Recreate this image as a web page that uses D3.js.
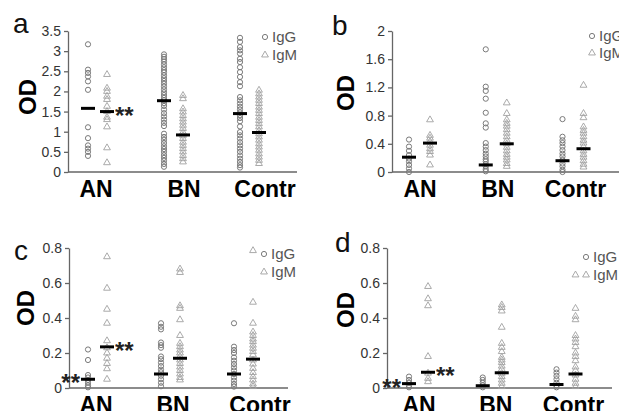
<!DOCTYPE html>
<html>
<head>
<meta charset="utf-8">
<script src="https://cdn.jsdelivr.net/npm/d3@7"></script>
<style>
  body { margin: 0; background: #fff; }
  svg { display: block; font-family: Arial, "Liberation Sans", sans-serif; }
  .tick text { fill: #333; font-size: 14px; }
  .cat .tick text { fill: #000; font-size: 23px; font-weight: bold; }
</style>
</head>
<body>
<div id="chart"></div>
<script>
const categories = ['AN', 'BN', 'Contr'];

// panel a
const aTicks = [0, 0.5, 1, 1.5, 2, 2.5, 3, 3.5];
const aIgG = [
    [3.17, 2.54, 2.46, 2.37, 2.25, 2.04, 1.11, 0.84, 0.66, 0.58, 0.50, 0.40],
    [2.92, 2.86, 2.80, 2.74, 2.67, 2.60, 2.53, 2.47, 2.40, 2.33, 2.26, 2.19, 2.12, 2.05, 1.98, 1.91, 1.84, 1.78, 1.71,
     1.64, 1.55, 1.46, 1.38, 1.30, 1.22, 1.14, 0.95, 0.87, 0.80, 0.72, 0.64, 0.57, 0.50, 0.42, 0.35, 0.28, 0.20, 0.13],
    [3.33, 3.23, 3.10, 3.02, 2.94, 2.81, 2.73, 2.60, 2.48, 2.36, 2.23, 2.13, 1.86, 1.78, 1.70, 1.62, 1.55, 1.48, 1.41,
     1.34, 1.26, 1.13, 0.99, 0.91, 0.83, 0.74, 0.66, 0.58, 0.50, 0.41, 0.33, 0.25, 0.17, 0.11]
];
const aIgM = [
    [2.42, 2.08, 2.00, 1.88, 1.80, 1.63, 1.50, 1.36, 1.30, 1.12, 0.60, 0.23],
    [1.90, 1.82, 1.57, 1.49, 1.40, 1.32, 1.24, 1.16, 1.08, 0.99, 0.91, 0.83, 0.74, 0.66, 0.58, 0.50, 0.41, 0.33, 0.25],
    [2.03, 1.94, 1.86, 1.78, 1.70, 1.61, 1.53, 1.45, 1.36, 1.28, 1.20, 1.12, 1.03, 0.95, 0.87, 0.79, 0.70, 0.62, 0.54,
     0.45, 0.37, 0.29, 0.21]
];
const aMedIgG = [1.58, 1.77, 1.45];
const aMedIgM = [1.50, 0.92, 0.98];

// panel b
const bTicks = [0, 0.4, 0.8, 1.2, 1.6, 2];
const bIgG = [
    [0.46, 0.36, 0.30, 0.24, 0.19, 0.15, 0.10, 0.05, 0.00],
    [1.74, 1.21, 1.15, 1.04, 0.84, 0.69, 0.63, 0.41, 0.36, 0.31, 0.26, 0.22, 0.18, 0.15, 0.11, 0.08, 0.04, 0.01],
    [0.75, 0.50, 0.45, 0.41, 0.36, 0.31, 0.26, 0.22, 0.17, 0.12, 0.08, 0.03, 0.00]
];
const bIgM = [
    [0.74, 0.52, 0.48, 0.43, 0.38, 0.33, 0.29, 0.24, 0.10],
    [0.98, 0.83, 0.74, 0.69, 0.65, 0.60, 0.55, 0.50, 0.45, 0.40, 0.35, 0.30, 0.25, 0.21, 0.17, 0.12, 0.08],
    [1.23, 0.83, 0.77, 0.64, 0.59, 0.55, 0.50, 0.45, 0.41, 0.36, 0.30, 0.25, 0.21, 0.16, 0.11, 0.07]
];
const bMedIgG = [0.21, 0.10, 0.16];
const bMedIgM = [0.41, 0.40, 0.33];

// panel c
const cTicks = [0, 0.2, 0.4, 0.6, 0.8];
const cIgG = [
    [0.22, 0.16, 0.074, 0.06, 0.046, 0.03, 0.015, 0.004],
    [0.37, 0.35, 0.335, 0.26, 0.245, 0.23, 0.18, 0.165, 0.145, 0.125, 0.105, 0.09, 0.07, 0.05, 0.03, 0.01],
    [0.37, 0.236, 0.217, 0.20, 0.175, 0.156, 0.137, 0.118, 0.10, 0.08, 0.06, 0.042, 0.023, 0.008]
];
const cIgM = [
    [0.75, 0.57, 0.45, 0.37, 0.27, 0.23, 0.20, 0.17, 0.14, 0.11, 0.05],
    [0.68, 0.66, 0.47, 0.455, 0.39, 0.30, 0.255, 0.236, 0.217, 0.20, 0.18, 0.16, 0.14, 0.12, 0.10, 0.08, 0.06, 0.046],
    [0.785, 0.49, 0.37, 0.32, 0.30, 0.28, 0.265, 0.245, 0.227, 0.208, 0.19, 0.16, 0.137, 0.112, 0.088, 0.065, 0.046,
     0.023, 0.008]
];
const cMedIgG = [0.05, 0.08, 0.08];
const cMedIgM = [0.235, 0.17, 0.165];

// panel d
const dTicks = [0, 0.2, 0.4, 0.6, 0.8];
const dIgG = [
    [0.065, 0.046, 0.03, 0.015, 0.004],
    [0.06, 0.046, 0.03, 0.015, 0.004],
    [0.107, 0.088, 0.069, 0.05, 0.03, 0.015, 0.004]
];
const dIgM = [
    [0.58, 0.51, 0.47, 0.18, 0.085, 0.055, 0.036],
    [0.475, 0.46, 0.44, 0.347, 0.255, 0.232, 0.208, 0.175, 0.16, 0.145, 0.125, 0.107, 0.084, 0.065, 0.046, 0.027, 0.008],
    [0.646, 0.455, 0.41, 0.39, 0.30, 0.28, 0.26, 0.236, 0.20, 0.18, 0.156, 0.12, 0.10, 0.074, 0.05, 0.027, 0.008]
];
const dMedIgG = [0.025, 0.013, 0.02];
const dMedIgM = [0.09, 0.087, 0.08];

// significance marks: category index, series, side of the median bar
const aStars = [{ cat: 0, s: 'IgM', side: 'after' }];
const cStars = [{ cat: 0, s: 'IgG', side: 'before' }, { cat: 0, s: 'IgM', side: 'after' }];
const dStars = [{ cat: 0, s: 'IgG', side: 'before' }, { cat: 0, s: 'IgM', side: 'after' }];

const panels = [
    { letter: 'a', igg: aIgG, igm: aIgM, medG: aMedIgG, medM: aMedIgM, ticks: aTicks, stars: aStars,
      x0: 68, x1: 297, top: 31, bottom: 172, groups: [97.5, 249.5], gap: 9.5, labelDx: [-2, 10, 15],
      letterPos: [13, 33], odPos: [27, 97], legend: [265, 37, 55] },
    { letter: 'b', igg: bIgG, igm: bIgM, medG: bMedIgG, medM: bMedIgM, ticks: bTicks, stars: [],
      x0: 392, x1: 619, top: 31, bottom: 172, groups: [419.5, 573], gap: 10.5, labelDx: [0, 1, 2],
      letterPos: [332, 35], odPos: [345, 93], legend: [592, 36, 53] },
    { letter: 'c', igg: cIgG, igm: cIgM, medG: cMedIgG, medM: cMedIgM, ticks: cTicks, stars: cStars,
      x0: 69, x1: 288, top: 248, bottom: 388, groups: [97.5, 243.5], gap: 9.5, labelDx: [-2, 2, 16],
      letterPos: [14, 260], odPos: [25, 308], legend: [264, 254, 272] },
    { letter: 'd', igg: dIgG, igm: dIgM, medG: dMedIgG, medM: dMedIgM, ticks: dTicks, stars: dStars,
      x0: 387, x1: 612, top: 248, bottom: 388, groups: [418.5, 566], gap: 9.5, labelDx: [0, 3, 7],
      letterPos: [335, 252], odPos: [345, 310], legend: [586, 257, 275] }
];

const width = 619, height = 411;
const circleColor = '#7a7a7a';
const triColor = '#a0a0a0';
const axisColor = '#666';

const svg = d3.select('#chart').append('svg')
    .attr('width', width)
    .attr('height', height)
    .attr('viewBox', [0, 0, width, height]);

const triangle = d3.symbol().type(d3.symbolTriangle).size(20);

function drawPanel(p) {
    const g = svg.append('g');
    const y = d3.scaleLinear()
        .domain([0, d3.max(p.ticks)])
        .range([p.bottom, p.top]);
    const x = d3.scalePoint()
        .domain(categories)
        .range(p.groups);
    const sx = (cat, s) => x(cat) + (s === 'IgG' ? -p.gap : p.gap);

    // y axis
    const yAxis = g.append('g')
        .attr('transform', `translate(${p.x0},0)`)
        .call(d3.axisLeft(y).tickValues(p.ticks).tickSize(4).tickSizeOuter(0).tickPadding(3).tickFormat(d => d));
    yAxis.selectAll('path, line').attr('stroke', axisColor).attr('stroke-width', 1.3);

    // x axis: plain line plus big bold labels
    g.append('line')
        .attr('x1', p.x0).attr('x2', p.x1)
        .attr('y1', y(0)).attr('y2', y(0))
        .attr('stroke', axisColor).attr('stroke-width', 1.5);
    const xAxis = g.append('g')
        .attr('class', 'cat')
        .attr('transform', `translate(0,${y(0)})`)
        .call(d3.axisBottom(x).tickSize(0).tickPadding(8));
    xAxis.select('.domain').remove();
    xAxis.selectAll('.tick text').attr('dx', (d, i) => p.labelDx[i]).attr('dy', '0.76em');

    // points
    const series = [
        { name: 'IgG', values: p.igg },
        { name: 'IgM', values: p.igm }
    ];
    series.forEach(s => {
        const pts = [];
        s.values.forEach((vals, i) => vals.forEach(v => pts.push({ cat: categories[i], v: v })));
        if (s.name === 'IgG') {
            g.selectAll(null).data(pts).join('circle')
                .attr('cx', d => sx(d.cat, 'IgG'))
                .attr('cy', d => y(d.v))
                .attr('r', 2.6)
                .attr('fill', 'none')
                .attr('stroke', circleColor)
                .attr('stroke-width', 1);
        } else {
            g.selectAll(null).data(pts).join('path')
                .attr('d', triangle)
                .attr('transform', d => `translate(${sx(d.cat, 'IgM')},${y(d.v)})`)
                .attr('fill', 'none')
                .attr('stroke', triColor)
                .attr('stroke-width', 0.9);
        }
    });

    // median bars
    const bars = [];
    categories.forEach((c, i) => {
        bars.push({ cat: c, s: 'IgG', v: p.medG[i] });
        bars.push({ cat: c, s: 'IgM', v: p.medM[i] });
    });
    const half = 7;
    g.selectAll(null).data(bars).join('line')
        .attr('x1', d => sx(d.cat, d.s) - half)
        .attr('x2', d => sx(d.cat, d.s) + half)
        .attr('y1', d => y(d.v))
        .attr('y2', d => y(d.v))
        .attr('stroke', '#000')
        .attr('stroke-width', 3);

    // ** marks
    g.selectAll(null).data(p.stars).join('text')
        .attr('x', d => sx(categories[d.cat], d.s) + (d.side === 'after' ? half + 1 : -half - 1))
        .attr('y', d => y((d.s === 'IgG' ? p.medG : p.medM)[d.cat]) + 12)
        .attr('text-anchor', d => d.side === 'after' ? 'start' : 'end')
        .attr('font-size', 24)
        .attr('font-weight', 'bold')
        .attr('fill', '#222')
        .text('**');

    // panel letter
    g.append('text')
        .attr('x', p.letterPos[0]).attr('y', p.letterPos[1])
        .attr('font-size', 28)
        .attr('fill', '#111')
        .text(p.letter);

    // y label
    g.append('text')
        .attr('transform', `translate(${p.odPos[0]},${p.odPos[1]}) rotate(-90)`)
        .attr('text-anchor', 'middle')
        .attr('dominant-baseline', 'central')
        .attr('font-size', 24)
        .attr('font-weight', 'bold')
        .text('OD');

    // legend
    const [lx, ly1, ly2] = p.legend;
    g.append('circle')
        .attr('cx', lx).attr('cy', ly1).attr('r', 2.6)
        .attr('fill', 'none').attr('stroke', circleColor);
    g.append('path')
        .attr('d', triangle)
        .attr('transform', `translate(${lx},${ly2})`)
        .attr('fill', 'none').attr('stroke', triColor).attr('stroke-width', 0.9);
    g.selectAll(null).data(['IgG', 'IgM']).join('text')
        .attr('x', lx + 7)
        .attr('y', (d, i) => (i === 0 ? ly1 : ly2) + 5)
        .attr('font-size', 15)
        .attr('fill', '#555')
        .text(d => d);
}

panels.forEach(drawPanel);
</script>
</body>
</html>
